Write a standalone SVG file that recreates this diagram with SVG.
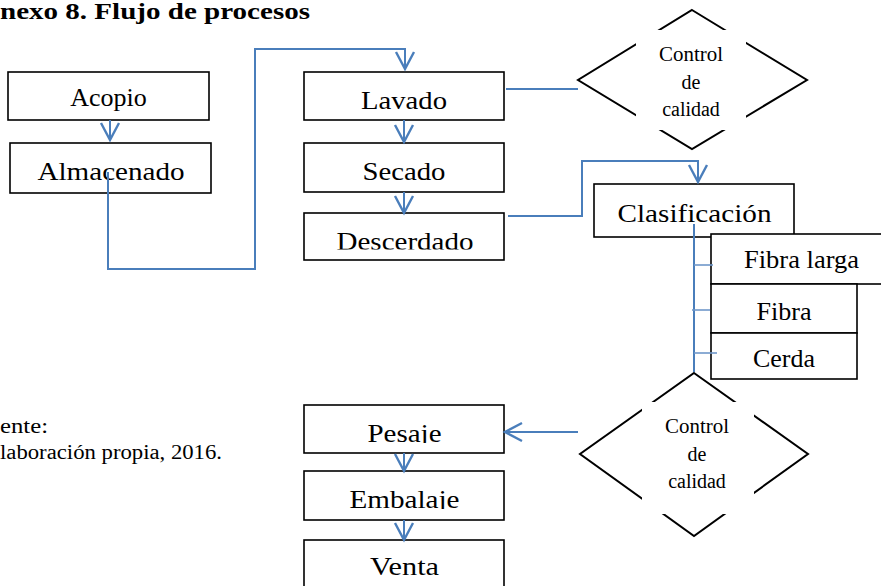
<svg xmlns="http://www.w3.org/2000/svg" width="881" height="586" viewBox="0 0 881 586">
  <defs>
    <style>
      text { font-family: 'Liberation Serif', Tinos, 'Times New Roman', Times, serif; fill: #000000; }
      .box { fill: #ffffff; stroke: #000000; stroke-width: 1.6; }
      .lbl { font-size: 26px; text-anchor: middle; }
      .dlbl { font-size: 20px; text-anchor: middle; }
      .note { font-size: 20px; }
      .title { font-size: 23px; font-weight: bold; }
      .dia { fill: none; stroke: #000000; stroke-width: 2; stroke-linejoin: miter; }
      .mask { fill: #ffffff; stroke: none; }
      .wire { fill: none; stroke: #4a7ebb; stroke-width: 2; }
      .tick { fill: none; stroke: #6f97c9; stroke-width: 1.6; }
    </style>
    <marker id="head" markerUnits="userSpaceOnUse" markerWidth="24" markerHeight="24" viewBox="-20 -12 24 24" refX="0" refY="0" orient="auto">
      <path d="M-17,-9 L0,0 L-17,9" fill="none" stroke="#4a7ebb" stroke-width="2.4"/>
    </marker>
    <clipPath id="clipDesc"><rect x="304" y="213" width="200" height="36.5"/></clipPath>
    <clipPath id="clipPes"><rect x="304" y="405" width="200" height="38"/></clipPath>
    <clipPath id="clipEmb"><rect x="304" y="471" width="200" height="38"/></clipPath>
  </defs>

  <rect x="0" y="0" width="881" height="586" fill="#ffffff"/>

  <!-- heading and source note -->
  <text class="title" x="0" y="19" textLength="310" lengthAdjust="spacingAndGlyphs">nexo 8. Flujo de procesos</text>
  <text class="note" x="0" y="433" textLength="48" lengthAdjust="spacingAndGlyphs">ente:</text>
  <text class="note" x="0" y="459" textLength="222" lengthAdjust="spacingAndGlyphs">laboración propia, 2016.</text>

  <!-- process boxes -->
  <g id="acopio">
    <rect class="box" x="8" y="72" width="201" height="48"/>
    <text class="lbl" x="108.5" y="106">Acopio</text>
  </g>
  <g id="almacenado">
    <rect class="box" x="10" y="143" width="201" height="50"/>
    <text class="lbl" x="111" y="180" textLength="147" lengthAdjust="spacingAndGlyphs">Almacenado</text>
  </g>
  <g id="lavado">
    <rect class="box" x="304" y="72" width="200" height="48"/>
    <text class="lbl" x="404" y="109" textLength="86" lengthAdjust="spacingAndGlyphs">Lavado</text>
  </g>
  <g id="secado">
    <rect class="box" x="304" y="143" width="200" height="49"/>
    <text class="lbl" x="404" y="180" textLength="83" lengthAdjust="spacingAndGlyphs">Secado</text>
  </g>
  <g id="descerdado">
    <rect class="box" x="304" y="213" width="200" height="47"/>
    <text class="lbl" x="405" y="250" textLength="137" lengthAdjust="spacingAndGlyphs" clip-path="url(#clipDesc)">Descerdado</text>
  </g>
  <g id="clasificacion">
    <rect class="box" x="594" y="184" width="200" height="53"/>
    <text class="lbl" x="694.5" y="222" textLength="154" lengthAdjust="spacingAndGlyphs">Clasificación</text>
  </g>
  <g id="fibra-larga">
    <rect class="box" x="711" y="234" width="180" height="50"/>
    <text class="lbl" x="801.5" y="268" textLength="115" lengthAdjust="spacingAndGlyphs">Fibra larga</text>
  </g>
  <g id="fibra">
    <rect class="box" x="711" y="284" width="146" height="49"/>
    <text class="lbl" x="784" y="320" textLength="55" lengthAdjust="spacingAndGlyphs">Fibra</text>
  </g>
  <g id="cerda">
    <rect class="box" x="711" y="333" width="146" height="46"/>
    <text class="lbl" x="784" y="367" textLength="62" lengthAdjust="spacingAndGlyphs">Cerda</text>
  </g>
  <g id="pesaje">
    <rect class="box" x="304" y="405" width="200" height="48"/>
    <text class="lbl" x="404.5" y="442" textLength="74" lengthAdjust="spacingAndGlyphs" clip-path="url(#clipPes)">Pesaje</text>
  </g>
  <g id="embalaje">
    <rect class="box" x="304" y="471" width="200" height="49"/>
    <text class="lbl" x="404.5" y="508" textLength="110" lengthAdjust="spacingAndGlyphs" clip-path="url(#clipEmb)">Embalaje</text>
  </g>
  <g id="venta">
    <rect class="box" x="304" y="540" width="200" height="60"/>
    <text class="lbl" x="404.5" y="575" textLength="69" lengthAdjust="spacingAndGlyphs">Venta</text>
  </g>

  <!-- quality-control decisions (text frame hides the middle of the outline) -->
  <g id="control-1">
    <polygon class="dia" points="692,10 807,80 692,149 578,80"/>
    <rect class="mask" x="636" y="30" width="110" height="100"/>
    <text class="dlbl" x="691" y="61" textLength="64" lengthAdjust="spacingAndGlyphs">Control</text>
    <text class="dlbl" x="691" y="89">de</text>
    <text class="dlbl" x="691" y="116">calidad</text>
  </g>
  <g id="control-2">
    <polygon class="dia" points="694,373 808,454 694,536 580,454"/>
    <rect class="mask" x="642" y="402" width="112" height="112"/>
    <text class="dlbl" x="697" y="433" textLength="64" lengthAdjust="spacingAndGlyphs">Control</text>
    <text class="dlbl" x="697" y="461">de</text>
    <text class="dlbl" x="697" y="488">calidad</text>
  </g>

  <!-- connectors -->
  <g id="connectors">
    <line class="wire" x1="110" y1="120" x2="110" y2="140" marker-end="url(#head)"/>
    <polyline class="wire" points="108,172 108,269 255,269 255,49 405,49 405,69" marker-end="url(#head)"/>
    <line class="wire" x1="404" y1="120" x2="404" y2="142" marker-end="url(#head)"/>
    <line class="wire" x1="404" y1="192" x2="404" y2="213" marker-end="url(#head)"/>
    <line class="wire" x1="506" y1="89" x2="578" y2="89"/>
    <polyline class="wire" points="508,216 582,216 582,161 698,161 698,182" marker-end="url(#head)"/>
    <line class="wire" x1="694" y1="224" x2="694" y2="372"/>
    <line class="tick" x1="694" y1="265" x2="713" y2="265"/>
    <line class="tick" x1="692" y1="310" x2="710" y2="310"/>
    <line class="tick" x1="694" y1="353" x2="717" y2="353"/>
    <line class="wire" x1="578" y1="432" x2="505" y2="432" marker-end="url(#head)"/>
    <line class="wire" x1="404" y1="453" x2="404" y2="471" marker-end="url(#head)"/>
    <line class="wire" x1="404" y1="520" x2="404" y2="540" marker-end="url(#head)"/>
  </g>
</svg>
